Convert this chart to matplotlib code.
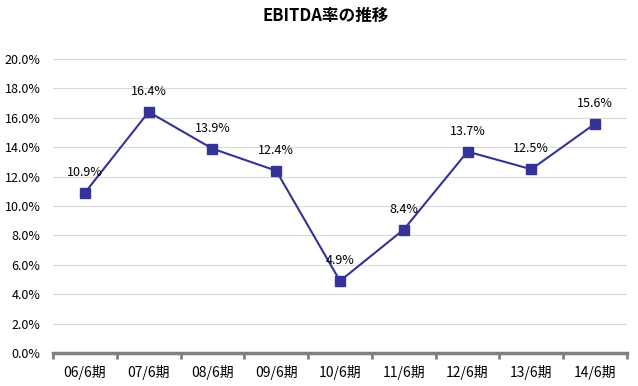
import matplotlib.pyplot as plt
from matplotlib.ticker import FuncFormatter, FixedLocator

plt.rcParams['font.family'] = ['Noto Sans CJK JP', 'DejaVu Sans']

periods = ['06/6期', '07/6期', '08/6期', '09/6期', '10/6期', '11/6期', '12/6期', '13/6期', '14/6期']
ebitda_rate = [10.9, 16.4, 13.9, 12.4, 4.9, 8.4, 13.7, 12.5, 15.6]

fig = plt.figure(figsize=(6.38, 3.86), dpi=100)
ax = fig.add_axes([53 / 638, 33 / 386, 574 / 638, 294 / 386])

x = list(range(len(periods)))
ax.plot(x, ebitda_rate, color='#333399', lw=1.5, marker='s', ms=7.5, zorder=3)
for xi, v in zip(x, ebitda_rate):
    ax.annotate(f'{v:.1f}%', (xi, v), xytext=(0, 10), textcoords='offset points',
                ha='center', va='bottom', fontsize=9)

ax.set_xlim(-0.5, len(periods) - 0.5)
ax.set_ylim(0, 20)
ax.set_yticks(range(0, 21, 2))
ax.yaxis.set_major_formatter(FuncFormatter(lambda v, p: f'{v:.1f}%'))
ax.grid(axis='y', color='#d9d9d9', lw=0.8)
ax.set_axisbelow(True)

ax.set_xticks(x)
ax.set_xticklabels(periods, fontsize=10)
ax.tick_params(axis='x', length=0, pad=9)
ax.xaxis.set_minor_locator(FixedLocator([i - 0.5 for i in range(len(periods) + 1)]))
ax.tick_params(axis='x', which='minor', length=4, width=2, color='#808080')
ax.tick_params(axis='y', length=0, pad=9, labelsize=9)

for s in ['left', 'right', 'top']:
    ax.spines[s].set_visible(False)
ax.spines['bottom'].set_color('#808080')
ax.spines['bottom'].set_linewidth(2.5)

fig.text(0.51, 0.96, 'EBITDA率の推移', ha='center', va='center', fontsize=12, fontweight='bold')

fig.savefig('out.png', dpi=100)
